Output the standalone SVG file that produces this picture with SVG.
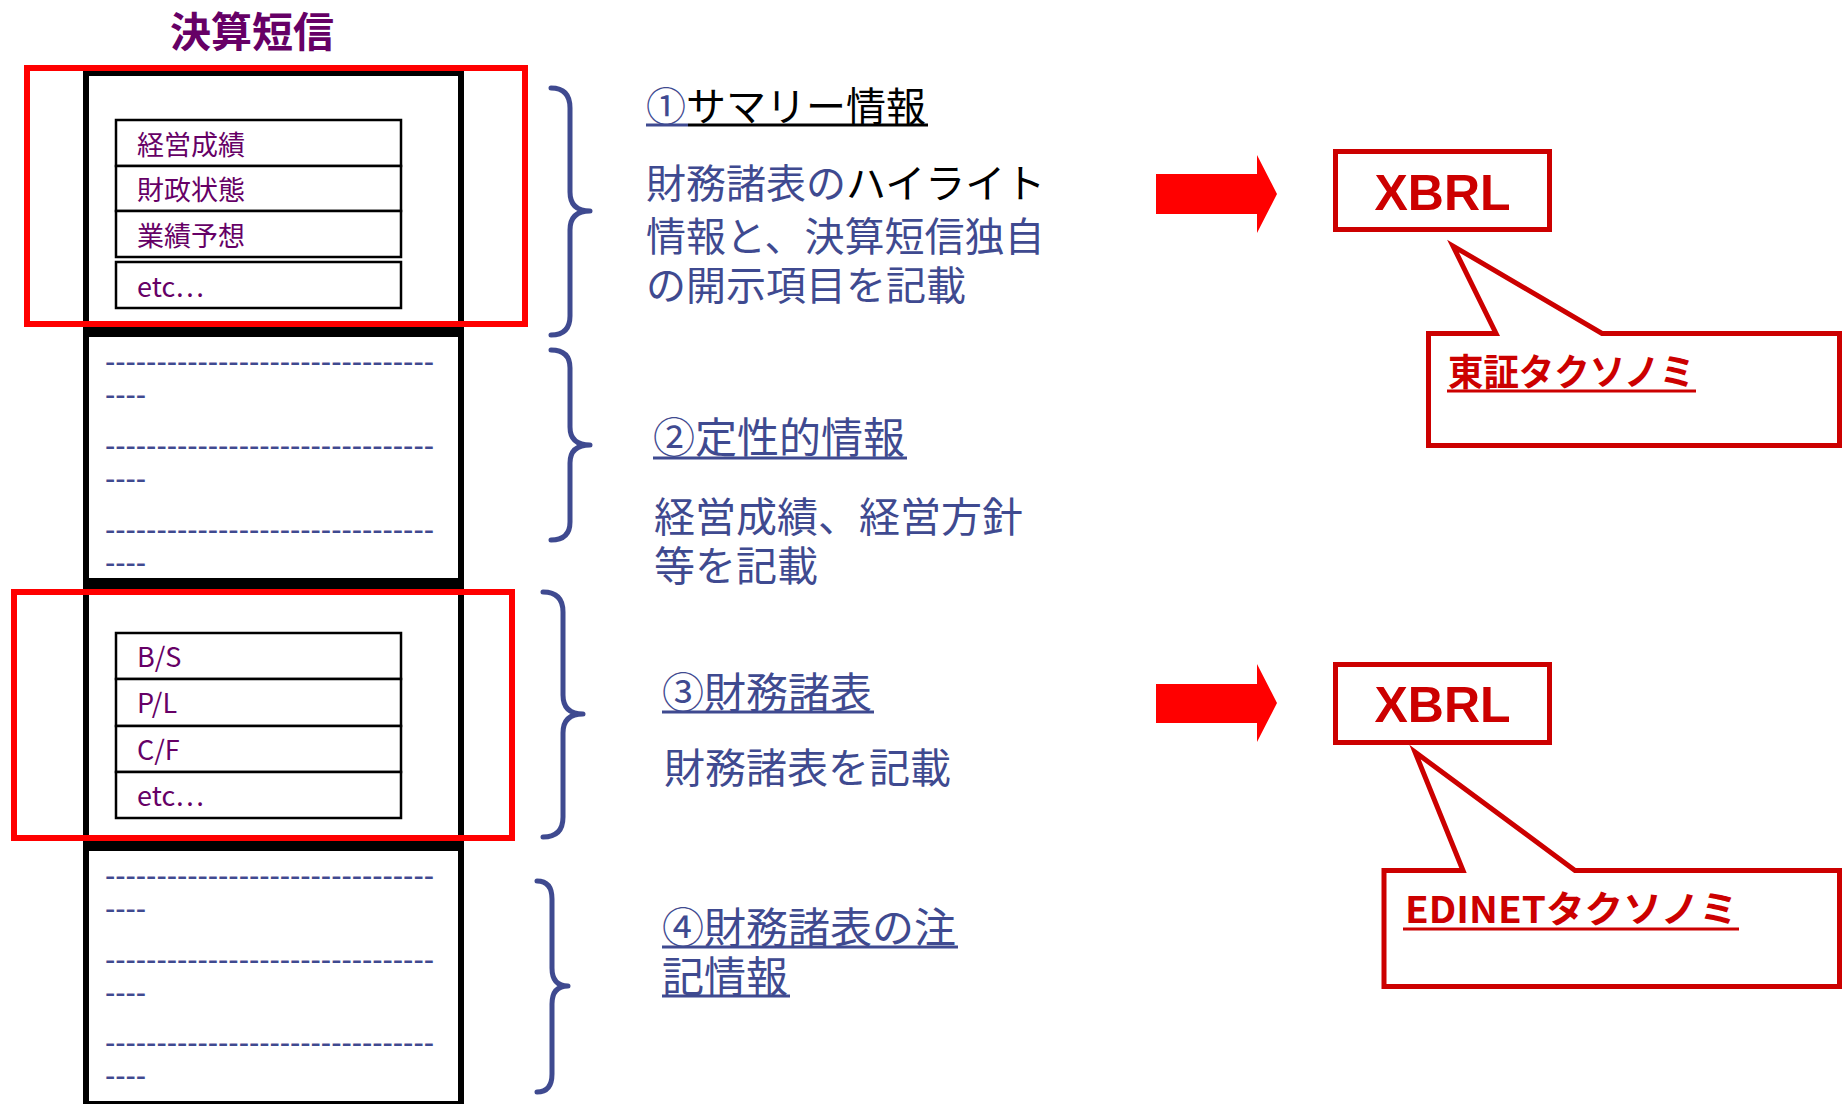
<svg xmlns="http://www.w3.org/2000/svg" width="1842" height="1104" viewBox="0 0 1842 1104">
<style>
.jp{font-family:'Noto Sans CJK JP','Noto Sans',sans-serif}
.pur{fill:#660066}
.blu{fill:#3F4A90}
.blk{fill:#000}
.red{fill:#CC0000}
.col{fill:#fff;stroke:#000;stroke-width:6}
.cell{fill:#fff;stroke:#000;stroke-width:2.5}
.hl{fill:none;stroke:#FF0000;stroke-width:6}
.brace{fill:none;stroke:#3F4A90;stroke-width:5;stroke-linecap:round;stroke-linejoin:round}
.dash{font-family:'Liberation Sans',Arial,sans-serif;font-size:31px;fill:#3F4A90}
.ul{stroke-width:3}
.xb{fill:#fff;stroke:#CC0000;stroke-width:5}
.call{fill:#fff;stroke:#CC0000;stroke-width:5;stroke-linejoin:miter}
.arr{fill:#FF0000}
</style>
<rect width="1842" height="1104" fill="#fff"/>

<g id="title">
<text class="jp pur" x="170" y="47" font-size="41" font-weight="bold">決算短信</text>
</g>

<g id="column">
<rect class="col" x="86" y="73" width="375" height="256"/>
<rect class="col" x="86" y="334" width="375" height="247"/>
<rect class="col" x="86" y="586" width="375" height="257"/>
<rect class="col" x="86" y="848" width="375" height="256"/>
</g>

<g id="summary-table">
<rect class="cell" x="116" y="120" width="285" height="46"/>
<rect class="cell" x="116" y="166" width="285" height="45"/>
<rect class="cell" x="116" y="211" width="285" height="46"/>
<rect class="cell" x="116" y="262" width="285" height="46"/>
<text class="jp pur" font-size="27" x="137" y="155">経営成績</text>
<text class="jp pur" font-size="27" x="137" y="200">財政状態</text>
<text class="jp pur" font-size="27" x="137" y="246">業績予想</text>
<text class="jp pur" font-size="27" x="137" y="297">etc…</text>
</g>

<g id="qualitative-lines">
<text class="dash" x="105" y="372" textLength="329" lengthAdjust="spacing">--------------------------------</text>
<text class="dash" x="105" y="405" textLength="41" lengthAdjust="spacing">----</text>
<text class="dash" x="105" y="456" textLength="329" lengthAdjust="spacing">--------------------------------</text>
<text class="dash" x="105" y="489" textLength="41" lengthAdjust="spacing">----</text>
<text class="dash" x="105" y="540" textLength="329" lengthAdjust="spacing">--------------------------------</text>
<text class="dash" x="105" y="573" textLength="41" lengthAdjust="spacing">----</text>
</g>

<g id="statements-table">
<rect class="cell" x="116" y="633" width="285" height="46"/>
<rect class="cell" x="116" y="679" width="285" height="47"/>
<rect class="cell" x="116" y="726" width="285" height="46"/>
<rect class="cell" x="116" y="772" width="285" height="46"/>
<text class="jp pur" font-size="27" x="137" y="667">B/S</text>
<text class="jp pur" font-size="27" x="137" y="713">P/L</text>
<text class="jp pur" font-size="27" x="137" y="760">C/F</text>
<text class="jp pur" font-size="27" x="137" y="806">etc…</text>
</g>

<g id="notes-lines">
<text class="dash" x="105" y="886" textLength="329" lengthAdjust="spacing">--------------------------------</text>
<text class="dash" x="105" y="919" textLength="41" lengthAdjust="spacing">----</text>
<text class="dash" x="105" y="970" textLength="329" lengthAdjust="spacing">--------------------------------</text>
<text class="dash" x="105" y="1003" textLength="41" lengthAdjust="spacing">----</text>
<text class="dash" x="105" y="1053" textLength="329" lengthAdjust="spacing">--------------------------------</text>
<text class="dash" x="105" y="1086" textLength="41" lengthAdjust="spacing">----</text>
</g>

<g id="highlight-summary">
<rect class="hl" x="27" y="68" width="498" height="256"/>
</g>
<g id="highlight-statements">
<rect class="hl" x="14" y="592" width="498" height="246"/>
</g>

<g id="braces">
<path class="brace" d="M551,88 Q570,88 570,108 L570,192 Q570,211 590,211 Q570,211 570,230 L570,316 Q570,335 551,335"/>
<path class="brace" d="M551,350 Q570,350 570,368 L570,427 Q570,445 590,445 Q570,445 570,463 L570,522 Q570,540 551,540"/>
<path class="brace" d="M543,592 Q563,592 563,612 L563,695 Q563,714 583,714 Q563,714 563,733 L563,817 Q563,837 543,837"/>
<path class="brace" d="M537,881 Q552,881 552,899 L552,968 Q552,986 568,986 Q552,986 552,1004 L552,1074 Q552,1092 537,1092"/>
</g>

<g id="section1">
<text class="jp" font-size="40" x="646" y="121"><tspan class="blu">①</tspan><tspan class="blk">サマリー情報</tspan></text>
<line x1="646" y1="125" x2="688" y2="125" stroke="#3F4A90" class="ul"/>
<line x1="688" y1="125" x2="928" y2="125" stroke="#000" class="ul"/>
<text class="jp" font-size="40"><tspan x="646" y="198" class="blu">財務諸表の</tspan><tspan class="blk">ハイライト</tspan><tspan x="646" y="251" class="blu">情報と、決算短信独自</tspan><tspan x="646" y="300" class="blu">の開示項目を記載</tspan></text>
</g>

<g id="section2">
<text class="jp blu" font-size="42" x="653" y="453">②定性的情報</text>
<line x1="653" y1="458" x2="907" y2="458" stroke="#3F4A90" class="ul"/>
<text class="jp blu" font-size="41"><tspan x="654" y="532">経営成績、経営方針</tspan><tspan x="654" y="581">等を記載</tspan></text>
</g>

<g id="section3">
<text class="jp blu" font-size="42" x="662" y="708">③財務諸表</text>
<line x1="662" y1="712" x2="874" y2="712" stroke="#3F4A90" class="ul"/>
<text class="jp blu" font-size="41" x="664" y="783">財務諸表を記載</text>
</g>

<g id="section4">
<text class="jp blu" font-size="42"><tspan x="662" y="943">④財務諸表の注</tspan><tspan x="662" y="992">記情報</tspan></text>
<line x1="662" y1="947" x2="958" y2="947" stroke="#3F4A90" class="ul"/>
<line x1="662" y1="996" x2="790" y2="996" stroke="#3F4A90" class="ul"/>
</g>

<g id="connectors">
<polygon class="arr" points="1156,174 1257,174 1257,155 1277,194 1257,233 1257,214 1156,214"/>
<polygon class="arr" points="1156,684 1257,684 1257,664 1277,703 1257,742 1257,723 1156,723"/>
</g>

<g id="xbrl1">
<rect class="xb" x="1335.5" y="151.5" width="214" height="78"/>
<text x="1442.5" y="210" text-anchor="middle" font-family="'Liberation Sans',Arial,sans-serif" font-weight="bold" font-size="50" class="red">XBRL</text>
</g>
<g id="xbrl2">
<rect class="xb" x="1335.5" y="664.5" width="214" height="78"/>
<text x="1442.5" y="722" text-anchor="middle" font-family="'Liberation Sans',Arial,sans-serif" font-weight="bold" font-size="50" class="red">XBRL</text>
</g>

<g id="callout-tse">
<path class="call" d="M1428.5,333.5 H1496 L1453,246 L1602,333.5 H1839.5 V445.5 H1428.5 Z"/>
<text class="jp red" font-size="37" font-weight="bold" x="1448" y="386" textLength="247" lengthAdjust="spacingAndGlyphs">東証タクソノミ</text>
<line x1="1447" y1="391" x2="1696" y2="391" stroke="#CC0000" class="ul"/>
</g>

<g id="callout-edinet">
<path class="call" d="M1384,870.5 H1463 L1415,752 L1575,870.5 H1839.5 V986.5 H1384 Z"/>
<text class="jp red" font-size="37" font-weight="bold" x="1405" y="923" textLength="333" lengthAdjust="spacingAndGlyphs">EDINETタクソノミ</text>
<line x1="1403" y1="929" x2="1739" y2="929" stroke="#CC0000" class="ul"/>
</g>
</svg>
